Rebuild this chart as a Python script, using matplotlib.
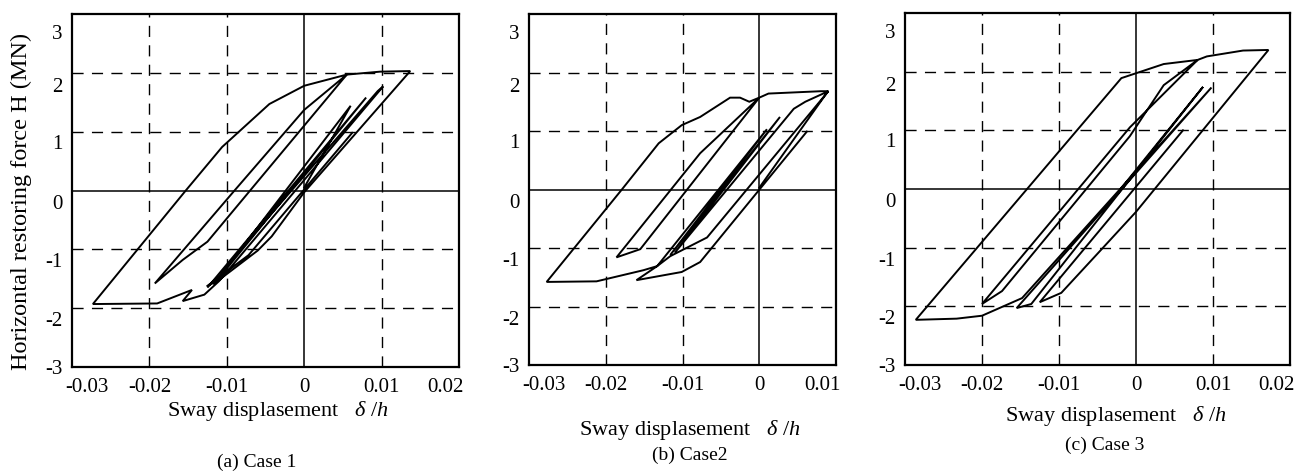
import matplotlib
matplotlib.use("Agg")
import matplotlib.pyplot as plt
import matplotlib.transforms as mtransforms

plt.rcParams["font.family"] = ["Liberation Serif", "DejaVu Serif"]
plt.rcParams["mathtext.fontset"] = "custom"
plt.rcParams["mathtext.rm"] = "Liberation Serif"
plt.rcParams["mathtext.it"] = "Liberation Serif:italic"

W, H = 1310, 473

# (a) Case 1 : drift ratio / horizontal force (MN)
case1_drift = [0.0000, 0.0060, -0.0117, 0.0080, -0.0125, 0.0095, 0.0102, -0.0005,
               -0.0110, -0.0129, -0.0157, -0.0145, -0.0190, -0.0273, -0.0153, -0.0106,
               -0.0045, 0.0000, 0.0055, 0.0000, -0.0090, -0.0193, -0.0157, -0.0125,
               0.0055, 0.0098, 0.0137, 0.0000, -0.0042, -0.0060, -0.0110, -0.0126,
               -0.0072, 0.0062]
case1_force = [0.05, 1.44, -1.60, 1.58, -1.65, 1.69, 1.77, 0.10,
               -1.54, -1.77, -1.88, -1.69, -1.92, -1.93, 0.00, 0.74,
               1.47, 1.78, 1.97, 1.37, 0.00, -1.58, -1.18, -0.87,
               1.97, 2.02, 2.03, -0.03, -0.78, -1.02, -1.52, -1.63,
               -1.10, 0.98]

# (b) Case2
case2_drift = [0.0062, -0.0077, -0.0101, -0.0160, -0.0133, 0.0010, -0.0116, 0.0027,
               -0.0110, 0.0045, 0.0060, 0.0090, 0.0023, -0.0068, -0.0116, -0.0133,
               -0.0151, -0.0212, -0.0277, -0.0179, -0.0131, -0.0101, -0.0077, -0.0038,
               -0.0025, -0.0013, 0.0000, -0.0077, -0.0186, -0.0155, 0.0000, 0.0012,
               0.0080, 0.0090, 0.0088, 0.0000]
case2_force = [0.99, -1.24, -1.41, -1.55, -1.31, 1.03, -1.12, 1.24,
               -1.08, 1.38, 1.50, 1.68, 0.62, -0.82, -1.14, -1.31,
               -1.38, -1.57, -1.58, 0.00, 0.79, 1.10, 1.24, 1.57,
               1.57, 1.50, 1.57, 0.62, -1.16, -1.02, 1.57, 1.64,
               1.68, 1.68, 1.65, 0.03]

# (c) Case 3
case3_drift = [-0.0020, 0.0087, -0.0136, -0.0155, 0.0098, -0.0148, -0.0200, -0.0233,
               -0.0286, -0.0019, 0.0036, 0.0080, -0.0008, -0.0200, -0.0174, -0.0008,
               0.0036, 0.0080, 0.0092, 0.0139, 0.0172, 0.0000, -0.0047, -0.0097,
               -0.0125, 0.0061]
case3_force = [0.00, 1.74, -1.96, -2.03, 1.73, -1.86, -2.16, -2.21,
               -2.23, 1.89, 2.13, 2.20, 1.05, -1.96, -1.74, 0.90,
               1.77, 2.20, 2.26, 2.36, 2.37, -0.39, -1.06, -1.77,
               -1.93, 1.00]

x_ticks_wide = [-0.03, -0.02, -0.01, 0.0, 0.01, 0.02]
x_labels_wide = ["-0.03", "-0.02", "-0.01", "0", "0.01", "0.02"]
x_ticks_narrow = [-0.03, -0.02, -0.01, 0.0, 0.01]
x_labels_narrow = ["-0.03", "-0.02", "-0.01", "0", "0.01"]
y_ticks = [-3, -2, -1, 0, 1, 2, 3]
y_labels = ["-3", "-2", "-1", "0", "1", "2", "3"]

captions = ["(a) Case 1", "(b) Case2", "(c) Case 3"]
x_title = r"Sway displasement   $\delta\ /h$"
y_title = "Horizontal restoring force H (MN)"

panels = [
    (case1_drift, case1_force, x_ticks_wide, x_labels_wide, (72, 459, 14, 367)),
    (case2_drift, case2_force, x_ticks_narrow, x_labels_narrow, (529, 836, 14, 365)),
    (case3_drift, case3_force, x_ticks_wide, x_labels_wide, (905, 1290, 13, 365)),
]
xlabel_pos = [(278, 411), (690, 430), (1116, 416)]
caption_pos = [(257, 462), (690, 455), (1105, 445)]
ylabel_shift = [0, 11, 11, 11, 10, 12, 18]

fig = plt.figure(figsize=(W / 100, H / 100), dpi=100)


def px_offset(dx, dy):
    return mtransforms.ScaledTranslation(dx / 100, -dy / 100, fig.dpi_scale_trans)


for drift, force, xt, xl, (l, r, t, b) in panels:
    ax = fig.add_axes([l / W, 1 - b / H, (r - l) / W, (b - t) / H])
    ax.set_xlim(xt[0], xt[-1])
    ax.set_ylim(-3, 3)

    for yv in y_ticks[1:-1]:
        if yv == 0:
            ax.axhline(0, color="black", lw=1.1)
        else:
            ax.axhline(yv, color="black", lw=1.0, dashes=(8, 6))
    for xv in xt[1:-1]:
        if xv == 0:
            ax.axvline(0, color="black", lw=1.1)
        else:
            ax.axvline(xv, color="black", lw=1.0, dashes=(8, 6))

    ax.plot(drift, force, color="black", lw=1.4, solid_joinstyle="miter")

    ax.set_xticks(xt)
    ax.set_xticklabels(xl)
    ax.set_yticks(y_ticks)
    ax.set_yticklabels(y_labels)
    ax.tick_params(length=0, labelsize=15, pad=7)
    ax.tick_params(axis="x", pad=8)

    xlabels = ax.get_xticklabels()
    xlabels[0].set_transform(xlabels[0].get_transform() + px_offset(15, 0))
    xlabels[-1].set_transform(xlabels[-1].get_transform() + px_offset(-14, 0))
    for lab, dy in zip(ax.get_yticklabels(), ylabel_shift):
        lab.set_transform(lab.get_transform() + px_offset(0, dy))

    for sp in ax.spines.values():
        sp.set_linewidth(1.6)

for (x, y) in xlabel_pos:
    fig.text(x / W, 1 - y / H, x_title, ha="center", va="center", fontsize=16)
for (x, y), cap in zip(caption_pos, captions):
    fig.text(x / W, 1 - y / H, cap, ha="center", va="center", fontsize=14)
fig.text(21 / W, 1 - 201 / H, y_title, ha="center", va="center",
         rotation=90, fontsize=17.5)

fig.savefig("out.png", dpi=100)
